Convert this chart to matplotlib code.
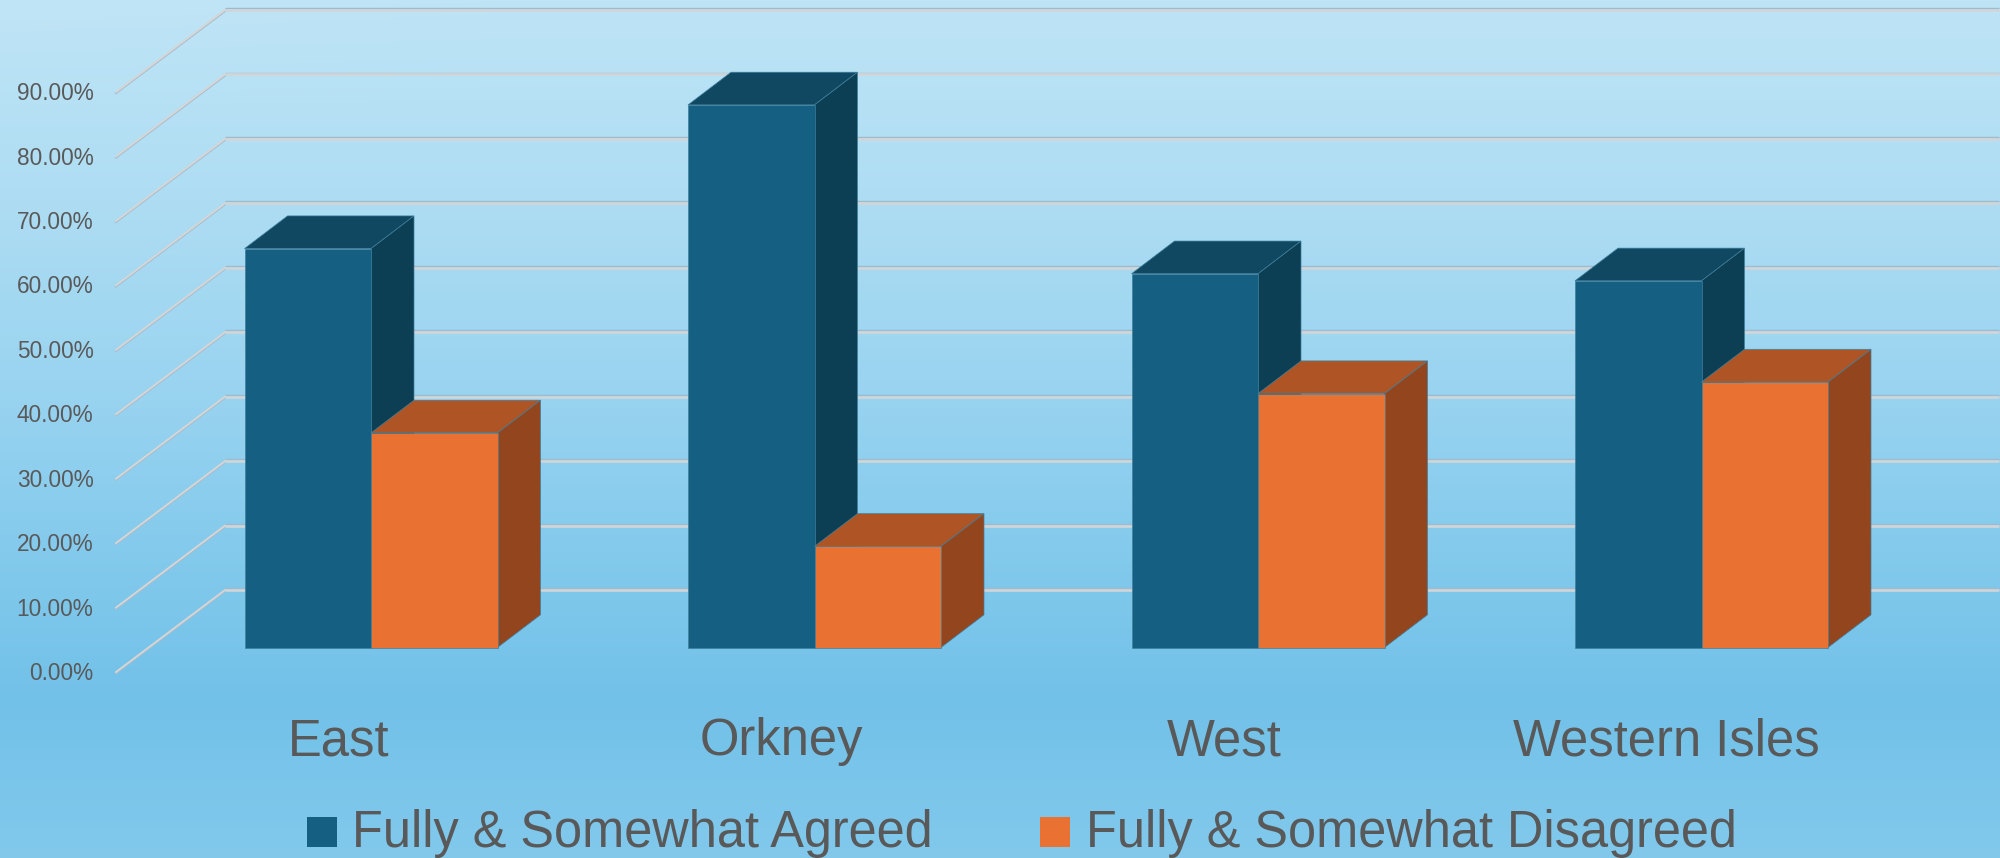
#!/usr/bin/env python3
"""3D-look clustered bars: agreement by region."""

import numpy as np
import matplotlib
matplotlib.use('Agg')
import matplotlib.pyplot as plt
from matplotlib.patches import Polygon, Rectangle

categories = ['East', 'Orkney', 'West', 'Western Isles']
agreed = [61.9, 84.2, 58.0, 56.9]
disagreed = [33.3, 15.7, 39.4, 41.2]
y_ticks = [0, 10, 20, 30, 40, 50, 60, 70, 80, 90]
series_names = ['Fully & Somewhat Agreed', 'Fully & Somewhat Disagreed']

BLUE = ('#156082', '#104861', '#0C3F54')    # front, top, side
ORANGE = ('#E97132', '#AF5525', '#93451E')
EDGE = '#3F7F9E'
TEXT = '#595959'

W, H = 2000, 858
PX_X = 443.5      # pixels per category
PX_Y = 6.444      # pixels per percent
X0, Y0 = 371, 647.5  # pixel position of first group centre / bar base
BAR_W = 126.5 / PX_X
DX, DY = 43 / PX_X, 32.7 / PX_Y  # bar depth


def fx(px):
    return (px - X0) / PX_X


def draw_bar(ax, x, val, cols, zorder):
    x1 = x + BAR_W
    top = [(x, val), (x1, val), (x1 + DX, val + DY), (x + DX, val + DY)]
    side = [(x1, 0), (x1 + DX, DY), (x1 + DX, val + DY), (x1, val)]
    ax.add_patch(Polygon(top, closed=True, fc=cols[1], ec=EDGE, lw=0.5, zorder=zorder))
    ax.add_patch(Polygon(side, closed=True, fc=cols[2], ec=EDGE, lw=0.5, zorder=zorder + 0.1))
    ax.bar(x, val, BAR_W, align='edge', color=cols[0], edgecolor=EDGE,
           linewidth=0.5, zorder=zorder + 0.2)


plt.rcParams['font.family'] = ['Liberation Sans', 'DejaVu Sans']
fig = plt.figure(figsize=(W / 100, H / 100), dpi=100)

# background and legend live in plain pixel coordinates
ax_bg = fig.add_axes([0, 0, 1, 1])
ax_bg.axis('off')

stop_y = [0, 200, 400, 600, 700, 858]
stop_c = [(0xBE, 0xE4, 0xF6), (0xAE, 0xDD, 0xF3), (0x98, 0xD3, 0xF0),
          (0x7D, 0xC7, 0xEB), (0x72, 0xC1, 0xE9), (0x82, 0xC9, 0xEC)]
yy, xx = np.mgrid[0:H, 0:W]
pos = yy - 25 * np.clip(1 - xx / 500, 0, 1) * np.clip(1 - yy / 120, 0, 1)
grad = np.dstack([np.interp(pos, stop_y, [c[i] for c in stop_c]) for i in range(3)]) / 255
ax_bg.imshow(grad, extent=(0, W, H, 0), aspect='auto', zorder=0)
ax_bg.set_xlim(0, W)
ax_bg.set_ylim(H, 0)

# chart axes: x in categories, y in percent
ax = fig.add_axes([0, 0, 1, 1])
ax.patch.set_alpha(0)
ax.axis('off')
ax.set_xlim(fx(0), fx(W))
ax.set_ylim((Y0 - H) / PX_Y, Y0 / PX_Y)

# frame: wall gridlines and floor ticks
front_off = -24.5 / PX_Y
back_off = 57.5 / PX_Y
for v in y_ticks:
    ax.plot([fx(225), fx(1999)], [v + back_off + 0.3] * 2, color='#9DBBCF', lw=1.0, zorder=1,
            solid_capstyle='butt')
    ax.plot([fx(225), fx(1999)], [v + back_off] * 2, color='#D2D5D7', lw=1.9, zorder=1.1,
            solid_capstyle='butt')
    ax.plot([fx(116), fx(225)], [v + front_off - 0.15, v + back_off - 0.15], color='#A9BDCC',
            lw=1.6, zorder=1)
    ax.plot([fx(116), fx(225)], [v + front_off, v + back_off], color='#D6D6D6', lw=1.3, zorder=1.1)
    ax.text(fx(93.5), v + front_off - 0.25, f'{v:.2f}%', ha='right', va='center', fontsize=16.3,
            color=TEXT, zorder=5)

for i, name in enumerate(categories):
    draw_bar(ax, i - BAR_W, agreed[i], BLUE, 2)
    draw_bar(ax, i, disagreed[i], ORANGE, 3)
    ax.text(i - (32 + i) / PX_X, (Y0 - 755) / PX_Y, name, ha='center', va='baseline',
            fontsize=36.5, color=TEXT, zorder=5)

# legend
swatches = [(307, BLUE[0]), (1040, ORANGE[0])]
label_x = [352, 1085.5]
for (sx, col), lx, name in zip(swatches, label_x, series_names):
    ax_bg.add_patch(Rectangle((sx, 817), 30, 30, fc=col, ec='none', zorder=2))
    ax_bg.text(lx, 847, name, ha='left', va='baseline', fontsize=36.4, color=TEXT, zorder=2)

fig.savefig('out.png', dpi=100)
